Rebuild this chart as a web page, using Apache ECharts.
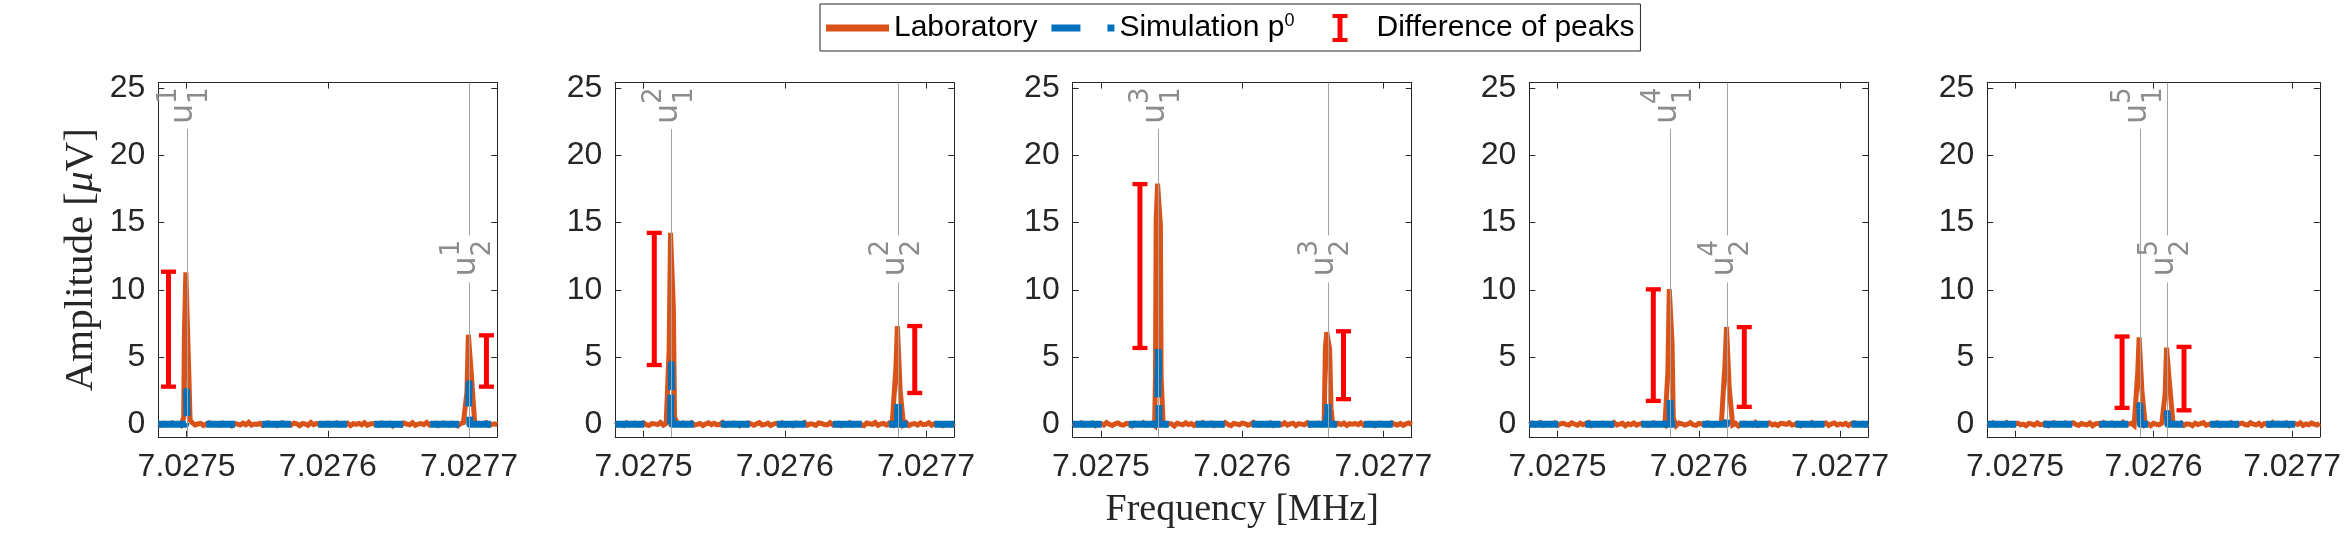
<!DOCTYPE html>
<html><head><meta charset="utf-8">
<script src="https://cdn.jsdelivr.net/npm/echarts@6/dist/echarts.min.js"></script>
<style>html,body{margin:0;padding:0;background:#fff}#c{width:2344px;height:547px}</style>
</head><body><div id="c"></div>
<script>
// ================= DATA =================
const freqTicks = [7.0275, 7.0276, 7.0277];           // x tick labels (MHz)
const ampTicks = [0, 5, 10, 15, 20, 25];               // y tick labels (µV)
const freqMin = 7.02748, freqMax = 7.02772;
const ampMin = -0.93, ampMax = 25.42;
const noiseStartMHz = 7.02748, noiseStepMHz = 0.000002; // lab sampling grid (2 Hz)

// resonance frequencies u_1^k and u_2^k (MHz), k = 1..5
const peakFreq1 = [7.0275000, 7.0275196, 7.0275406, 7.0275796, 7.0275901];
const peakFreq2 = [7.0277000, 7.0276802, 7.0276604, 7.0276201, 7.0276099];

// laboratory noise floor, hundredths of µV, on the 2 Hz grid
const labNoise1 = [3,-6,8,2,-4,10,-2,5,-8,4,6,-3,12,-5,2,7,-9,3,11,-4,0,5,-7,9,-2,4,-11,6,1,-5,8,-3,14,-6,2,-1,7,-8,5,10,-4,3,-9,6,12,-2,0,-6,9,4,-10,5,2,-7,13,-3,6,-1,-8,4,9,-5,1,11,-6,3,-2,8,-10,5,0,7,-4,12,-7,2,6,-3,-9,10,4,-1,8,-12,5,3,-6,9,1,-4,11,-8,2,6,-3,14,-5,0,7,-9,3,10,-2,-6,8,4,-11,5,12,-3,1,-7,9,2,-5,6,13,-8,0,4,-2];
const labNoise2 = [-5,7,2,-9,11,-3,4,8,-6,1,10,-4,-8,6,3,-2,13,-7,5,0,-10,8,4,-3,9,-6,2,12,-5,-1,6,-9,3,11,-2,7,-4,0,14,-8,5,-3,9,1,-11,6,-2,10,4,-7,3,12,-5,-1,8,-9,2,7,-4,11,-6,0,5,-10,9,3,-3,13,-7,4,1,-8,10,6,-2,-5,12,-4,2,8,-9,5,0,11,-6,3,7,-3,-10,9,4,-1,13,-7,2,6,-5,10,-2,-8,8,3,-4,12,-9,1,5,-6,9,-3,0,11,-7,4,7,-2,-10,6,3,-5,10];
const labNoise3 = [8,-4,2,11,-7,5,-1,9,-10,3,6,-5,13,0,-8,4,10,-3,-6,7,2,-11,9,5,-2,12,-6,1,8,-9,4,-3,10,-7,6,3,-12,8,1,-4,11,-2,5,-9,7,0,13,-5,-3,9,-8,4,2,-6,12,-1,-10,6,3,-4,9,5,-7,1,14,-3,-8,7,2,-5,10,-9,4,0,-2,11,-6,3,8,-10,5,1,-4,12,-7,6,-1,9,-5,2,-8,13,3,-6,7,-2,10,-9,4,0,6,-3,11,-7,1,8,-4,-10,5,9,-2,3,-6,12,0,-5,7,-8,4,10,-3];
const labNoise4 = [-2,9,-6,4,12,-8,1,6,-4,10,-9,3,7,-1,-5,11,2,-7,8,-3,5,13,-10,0,6,-4,9,-2,3,-8,12,-5,1,7,-11,4,-3,10,-6,2,8,-1,-9,5,11,-4,0,6,-7,13,-2,3,-10,9,4,-6,1,12,-3,-8,7,2,-5,10,-1,-9,6,3,11,-7,0,5,-4,8,-12,4,9,-2,1,-6,13,-8,3,6,-3,10,-5,2,-9,7,4,-1,11,-6,0,8,-10,5,2,-4,12,-7,6,1,-3,9,-8,4,10,-5,3,-2,7,-9,5,11,-4,0,8,-6,2];
const labNoise5 = [6,-3,10,-8,2,5,-5,12,-1,-7,4,9,-4,1,-10,7,3,-6,11,-2,0,8,-9,5,13,-5,2,-3,9,-7,4,11,-1,-8,6,0,-4,10,-11,3,7,-6,12,-2,1,9,-7,4,-3,14,-5,2,8,-9,5,-1,11,-6,3,-10,7,0,-4,10,6,-8,2,12,-3,-5,9,-7,4,1,-11,8,-2,5,13,-6,0,7,-3,10,-9,3,6,-5,11,-1,-8,4,9,-2,-6,12,1,-4,7,-10,5,2,-7,13,-3,8,0,-5,10,-9,4,6,-2,11,-8,3,-4,9,1,-6,7];

// laboratory peak samples [MHz, µV]
const labPeaks1 = [[7.0274980,0.5],[7.0274985,6.9],[7.0274995,11.3],[7.0275005,11.2],[7.0275015,4.2],[7.0275025,0.3],
                   [7.0276985,2.4],[7.0276995,6.66],[7.0277005,6.6],[7.0277015,3.9]];
const labPeaks2 = [[7.0275181,5.5],[7.0275191,14.24],[7.0275201,14.1],[7.0275211,8.7],[7.0275221,0.5],
                   [7.0276787,4.3],[7.0276797,7.31],[7.0276807,7.2],[7.0276817,2.5]];
const labPeaks3 = [[7.0275386,3.5],[7.0275391,15.2],[7.0275401,17.9],[7.0275411,17.8],[7.0275421,14.8],[7.0275426,3.5],
                   [7.0276589,5.7],[7.0276599,6.85],[7.0276609,6.8],[7.0276619,5.6],[7.0276629,1.2]];
const labPeaks4 = [[7.0275781,3.9],[7.0275791,10.06],[7.0275801,10.0],[7.0275811,6.0],[7.0275821,0.4],
                   [7.0276186,4.6],[7.0276196,7.24],[7.0276206,7.1],[7.0276216,2.6]];
const labPeaks5 = [[7.0275886,3.9],[7.0275896,6.46],[7.0275906,6.4],[7.0275916,2.5],
                   [7.0276084,2.3],[7.0276094,5.7],[7.0276104,5.7],[7.0276114,3.2]];

// simulation p^0 [MHz, µV]
const simData1 = [[7.02748,0],[7.0274995,0],[7.0275000,2.44],[7.0275005,0],[7.0276995,0],[7.0277000,3.03],[7.0277005,0],[7.02772,0]];
const simData2 = [[7.02748,0],[7.0275191,0],[7.0275196,4.46],[7.0275201,0],[7.0276797,0],[7.0276802,2.52],[7.0276807,0],[7.02772,0]];
const simData3 = [[7.02748,0],[7.0275401,0],[7.0275406,5.89],[7.0275411,0],[7.0276599,0],[7.0276604,2.13],[7.0276609,0],[7.02772,0]];
const simData4 = [[7.02748,0],[7.0275791,0],[7.0275796,1.95],[7.0275801,0],[7.0276196,0],[7.0276201,0.75],[7.0276206,0],[7.02772,0]];
const simData5 = [[7.02748,0],[7.0275896,0],[7.0275901,1.40],[7.0275906,0],[7.0276094,0],[7.0276099,0.83],[7.0276104,0],[7.02772,0]];

// difference of peaks: [MHz, low µV, high µV]
const errData1 = [[7.0274872, 2.80, 11.35], [7.0277123, 2.80, 6.62]];
const errData2 = [[7.0275076, 4.41, 14.24], [7.0276920, 2.33, 7.31]];
const errData3 = [[7.0275276, 5.68, 17.87], [7.0276717, 1.87, 6.92]];
const errData4 = [[7.0275678, 1.74, 10.04], [7.0276322, 1.30, 7.23]];
const errData5 = [[7.0275773, 1.22, 6.53], [7.0276220, 1.04, 5.76]];

const labNoise = [labNoise1, labNoise2, labNoise3, labNoise4, labNoise5];
const labPeaks = [labPeaks1, labPeaks2, labPeaks3, labPeaks4, labPeaks5];
const simData = [simData1, simData2, simData3, simData4, simData5];
const errData = [errData1, errData2, errData3, errData4, errData5];

// ================= LAYOUT / STYLE =================
const gridLeft = [158.3, 615.3, 1072.7, 1529.3, 1987.3];
const gridW = 339, gridTop = 82.6, gridH = 354.2;
const AX = '#262626';
const ORANGE = '#D95319', BLUE = '#0072BD', RED = '#FF0000', GRAYLINE = '#a3a3a3', GRAYTXT = '#8c8c8c';
const labelTopY = 23.1, labelMidY = 11.75;       // annotation anchor (µV units)
const topGapLow = 21.97, midGapLow = 10.56, midGapHigh = 14.06;

function buildLab(noise, peaks, centers) {
  const pts = [];
  noise.forEach((v, i) => {
    const f = noiseStartMHz + i * noiseStepMHz;
    if (centers.every(c => Math.abs(f - c) > 2.2e-6)) pts.push([f, v / 100]);
  });
  peaks.forEach(p => pts.push(p));
  pts.sort((a, b) => a[0] - b[0]);
  return pts;
}

const grids = [], xAxes = [], yAxes = [], series = [];
for (let i = 0; i < 5; i++) {
  grids.push({left: gridLeft[i], top: gridTop, width: gridW, height: gridH});
  const tickCommon = {show: true, inside: true, length: 6, lineStyle: {color: AX, width: 1}};
  xAxes.push({
    type: 'value', gridIndex: i, min: freqMin, max: freqMax, position: 'bottom',
    axisLine: {show: true, onZero: false, lineStyle: {color: AX, width: 1}},
    axisTick: Object.assign({customValues: freqTicks}, tickCommon),
    axisLabel: {customValues: freqTicks, formatter: v => v.toFixed(4), margin: 14,
      fontFamily: 'Liberation Sans', fontSize: 32, color: AX},
    splitLine: {show: false},
    name: i === 2 ? 'Frequency [MHz]' : '', nameLocation: 'middle', nameGap: 54,
    nameTextStyle: {fontFamily: 'Liberation Serif', fontSize: 38, color: AX}
  });
  xAxes.push({
    type: 'value', gridIndex: i, min: freqMin, max: freqMax, position: 'top',
    axisLine: {show: true, onZero: false, lineStyle: {color: AX, width: 1}},
    axisTick: Object.assign({customValues: freqTicks}, tickCommon),
    axisLabel: {show: false}, splitLine: {show: false}
  });
  yAxes.push({
    type: 'value', gridIndex: i, min: ampMin, max: ampMax, position: 'left',
    axisLine: {show: true, onZero: false, lineStyle: {color: AX, width: 1}},
    axisTick: Object.assign({customValues: ampTicks}, tickCommon),
    axisLabel: {customValues: ampTicks, margin: 13, fontFamily: 'Liberation Sans', fontSize: 32, color: AX},
    splitLine: {show: false},
    name: i === 0 ? 'Amplitude [{i|μ}V]' : '', nameLocation: 'middle', nameGap: 57,
    nameTextStyle: {fontFamily: 'Liberation Serif', fontSize: 41, color: AX,
      rich: {i: {fontFamily: 'Liberation Serif', fontStyle: 'italic', fontSize: 41, color: AX}}}
  });
  yAxes.push({
    type: 'value', gridIndex: i, min: ampMin, max: ampMax, position: 'right',
    axisLine: {show: true, onZero: false, lineStyle: {color: AX, width: 1}},
    axisTick: Object.assign({customValues: ampTicks}, tickCommon),
    axisLabel: {show: false}, splitLine: {show: false}
  });

  const xi = 2 * i, yi = 2 * i;
  const u1 = peakFreq1[i], u2 = peakFreq2[i];
  series.push({
    name: 'Laboratory', type: 'line', xAxisIndex: xi, yAxisIndex: yi, z: 2,
    data: buildLab(labNoise[i], labPeaks[i], [u1, u2]),
    showSymbol: false, symbol: 'none', color: ORANGE, silent: true,
    lineStyle: {color: ORANGE, width: 5, join: 'miter', miterLimit: 4}
  });
  series.push({
    name: 'Simulation p0', type: 'line', xAxisIndex: xi, yAxisIndex: yi, z: 3,
    data: simData[i], showSymbol: false, symbol: 'none', color: BLUE, silent: true,
    lineStyle: {color: BLUE, width: 7, type: [29, 27], join: 'round'}
  });
  series.push({
    name: 'Difference of peaks', type: 'custom', xAxisIndex: xi, yAxisIndex: yi, z: 4,
    data: errData[i], color: RED, itemStyle: {color: RED}, silent: true,
    encode: {x: 0, y: [1, 2]},
    renderItem: (params, api) => {
      const x = api.value(0), lo = api.value(1), hi = api.value(2);
      const pLo = api.coord([x, lo]), pHi = api.coord([x, hi]);
      const capW = 15, capT = 4.3, stemW = 5;
      return {type: 'group', children: [
        {type: 'rect', shape: {x: pLo[0] - stemW / 2, y: pHi[1], width: stemW, height: pLo[1] - pHi[1]}, style: {fill: RED}},
        {type: 'rect', shape: {x: pHi[0] - capW / 2, y: pHi[1] - capT / 2, width: capW, height: capT}, style: {fill: RED}},
        {type: 'rect', shape: {x: pLo[0] - capW / 2, y: pLo[1] - capT / 2, width: capW, height: capT}, style: {fill: RED}}
      ]};
    }
  });
  // resonance markers: vertical grey line with rotated label u^k_j
  const k = i + 1;
  series.push({
    type: 'custom', xAxisIndex: xi, yAxisIndex: yi, z: 5, silent: true,
    data: [[u1, labelTopY, 1], [u2, labelMidY, 2]],
    encode: {x: 0, y: 1},
    renderItem: (params, api) => {
      const u = api.value(0), ly = api.value(1), j = api.value(2);
      const segs = j === 1 ? [[ampMin, topGapLow]] : [[ampMin, midGapLow], [midGapHigh, ampMax]];
      const children = segs.map(s => {
        const a = api.coord([u, s[0]]), b = api.coord([u, s[1]]);
        const x = Math.round(a[0]) + 0.5;
        return {type: 'line', shape: {x1: x, y1: a[1], x2: x, y2: b[1]}, style: {stroke: GRAYLINE, lineWidth: 1}};
      });
      const p = api.coord([u, ly]);
      const txt = (t, dx, dy, fs) => ({type: 'text', x: p[0] + dx, y: p[1] + dy, rotation: Math.PI / 2,
        style: {text: t, fontSize: fs, fontFamily: 'DejaVu Sans', fill: GRAYTXT, align: 'center', verticalAlign: 'middle'}});
      children.push(txt('u', -2.6, 0, 32));
      children.push(txt(String(k), -17, -18, 26));
      children.push(txt(String(j), 14, -18, 26));
      return {type: 'group', children: children};
    }
  });
}

const chart = echarts.init(document.getElementById('c'), null, {renderer: 'canvas'});
chart.setOption({
  animation: false,
  backgroundColor: '#fff',
  grid: grids, xAxis: xAxes, yAxis: yAxes, series: series,
  legend: {
    left: 820, top: 4, padding: [8, 6, 8, 6], itemGap: 14, itemWidth: 63, itemHeight: 28,
    borderColor: AX, borderWidth: 1, backgroundColor: '#fff', selectedMode: false,
    symbolKeepAspect: true,
    textStyle: {fontFamily: 'Liberation Sans', fontSize: 30, color: '#000',
      rich: {sup: {fontFamily: 'Liberation Sans', fontSize: 18, color: '#000', padding: [0, 0, 14, 0]}}},
    formatter: n => n === 'Simulation p0' ? 'Simulation p{sup|0}' : n,
    data: [
      {name: 'Laboratory', icon: 'path://M0,0H62V7H0Z'},
      {name: 'Simulation p0', icon: 'path://M0,0H29V7H0ZM56,0H63V7H56Z'},
      {name: 'Difference of peaks', icon: 'path://M0,14h0.01v0.01h-0.01ZM62.99,14h0.01v0.01h-0.01ZM24,0H39V4H34V24H39V28H24V24H29V4H24Z'}
    ]
  }
});
</script></body></html>
